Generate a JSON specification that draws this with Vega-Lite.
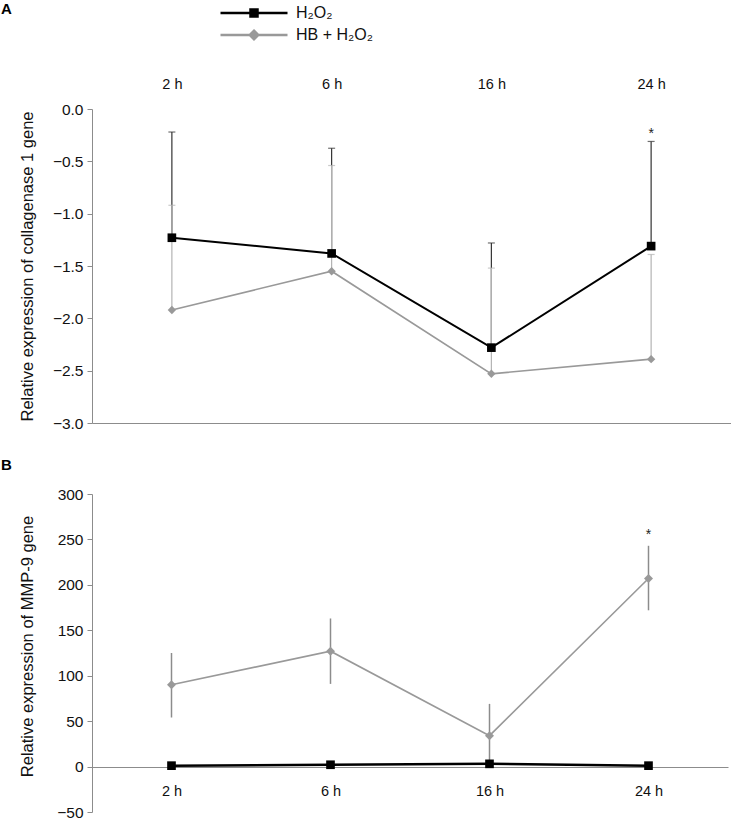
{
  "$schema": "https://vega.github.io/schema/vega-lite/v6.json",
  "padding": {"left": 1, "top": 2, "right": 0, "bottom": 0},
  "background": "white",
  "config": {
    "font": "Liberation Sans",
    "view": {"stroke": null},
    "axis": {"labelFont": "Liberation Sans", "titleFont": "Liberation Sans", "labelFontSize": 14, "titleFontSize": 16.5, "titleFontWeight": "normal", "labelColor": "#111", "titleColor": "#111", "domainColor": "#8c8c8c", "tickColor": "#8c8c8c", "grid": false}
  },
  "datasets": {
    "expr": [
      {"panel": "A", "time": "2 h", "group": "H₂O₂", "mean": -1.23, "upper": -0.22, "lower": -1.23},
      {"panel": "A", "time": "6 h", "group": "H₂O₂", "mean": -1.38, "upper": -0.375, "lower": -1.38},
      {"panel": "A", "time": "16 h", "group": "H₂O₂", "mean": -2.28, "upper": -1.28, "lower": -2.28},
      {"panel": "A", "time": "24 h", "group": "H₂O₂", "mean": -1.31, "upper": -0.31, "lower": -1.31},
      {"panel": "A", "time": "2 h", "group": "HB + H₂O₂", "mean": -1.92, "upper": -0.92, "lower": -1.92},
      {"panel": "A", "time": "6 h", "group": "HB + H₂O₂", "mean": -1.55, "upper": -0.54, "lower": -1.55},
      {"panel": "A", "time": "16 h", "group": "HB + H₂O₂", "mean": -2.53, "upper": -1.52, "lower": -2.53},
      {"panel": "A", "time": "24 h", "group": "HB + H₂O₂", "mean": -2.39, "upper": -1.39, "lower": -2.39},
      {"panel": "B", "time": "2 h", "group": "H₂O₂", "mean": 1, "upper": 1, "lower": 1},
      {"panel": "B", "time": "6 h", "group": "H₂O₂", "mean": 2, "upper": 2, "lower": 2},
      {"panel": "B", "time": "16 h", "group": "H₂O₂", "mean": 3, "upper": 3, "lower": 3},
      {"panel": "B", "time": "24 h", "group": "H₂O₂", "mean": 1, "upper": 1, "lower": 1},
      {"panel": "B", "time": "2 h", "group": "HB + H₂O₂", "mean": 90, "upper": 125, "lower": 54},
      {"panel": "B", "time": "6 h", "group": "HB + H₂O₂", "mean": 127, "upper": 163, "lower": 91},
      {"panel": "B", "time": "16 h", "group": "HB + H₂O₂", "mean": 34, "upper": 69, "lower": -1},
      {"panel": "B", "time": "24 h", "group": "HB + H₂O₂", "mean": 207, "upper": 243, "lower": 172}
    ],
    "stars": [
      {"panel": "A", "time": "24 h", "y": -0.2, "label": "*"},
      {"panel": "B", "time": "24 h", "y": 259, "label": "*"}
    ]
  },
  "spacing": 26,
  "resolve": {"legend": {"shape": "independent", "fill": "independent", "stroke": "independent"}},
  "vconcat": [
    {
      "width": 639,
      "height": 314,
      "title": {"text": "A", "anchor": "start", "frame": "group", "dx": -91, "dy": 16, "fontSize": 15, "fontWeight": "bold", "font": "Liberation Sans", "color": "#000"},
      "data": {"name": "expr"},
      "transform": [{"filter": "datum.panel == 'A'"}],
      "resolve": {"axis": {"x": "independent"}},
      "layer": [
        {
          "mark": {"type": "rule", "strokeWidth": 1.2},
          "encoding": {
            "x": {"field": "time", "type": "ordinal", "sort": ["2 h", "6 h", "16 h", "24 h"], "scale": {"type": "point", "padding": 0.5}, "title": null,
                  "axis": {"orient": "top", "domain": false, "ticks": false, "labelPadding": 18, "labelAngle": 0, "title": null, "labelFontSize": 14.5}},
            "y": {"field": "mean", "type": "quantitative", "scale": {"domain": [-3, 0], "nice": false, "zero": false},
                  "title": "Relative expression of collagenase 1 gene",
                  "axis": {"values": [-3, -2.5, -2, -1.5, -1, -0.5, 0], "format": ".1f", "tickSize": 5, "labelPadding": 4, "titleX": -57, "labelFontSize": 15.5}},
            "y2": {"field": "upper"},
            "color": {"condition": {"test": "datum.group == 'H₂O₂'", "value": "#333333"}, "value": "#b3b3b3"}
          }
        },
        {
          "mark": {"type": "tick", "thickness": 1.2, "size": 7},
          "encoding": {
            "x": {"field": "time", "type": "ordinal", "sort": ["2 h", "6 h", "16 h", "24 h"], "title": null,
                  "axis": {"orient": "bottom", "labels": false, "ticks": false, "domain": true, "title": null}},
            "y": {"field": "upper", "type": "quantitative"},
            "color": {"condition": {"test": "datum.group == 'H₂O₂'", "value": "#333333"}, "value": "#b3b3b3"}
          }
        },
        {
          "mark": {"type": "line"},
          "encoding": {
            "x": {"field": "time", "type": "ordinal", "sort": ["2 h", "6 h", "16 h", "24 h"], "axis": null},
            "y": {"field": "mean", "type": "quantitative"},
            "detail": {"field": "group"},
            "color": {"condition": {"test": "datum.group == 'H₂O₂'", "value": "#000000"}, "value": "#999999"},
            "strokeWidth": {"condition": {"test": "datum.group == 'H₂O₂'", "value": 2}, "value": 1.6}
          }
        },
        {
          "mark": {"type": "point", "filled": true, "opacity": 1},
          "encoding": {
            "x": {"field": "time", "type": "ordinal", "sort": ["2 h", "6 h", "16 h", "24 h"], "axis": null},
            "y": {"field": "mean", "type": "quantitative"},
            "shape": {"condition": {"test": "datum.group == 'H₂O₂'", "value": "square"}, "value": "diamond"},
            "color": {"condition": {"test": "datum.group == 'H₂O₂'", "value": "#000000"}, "value": "#999999"},
            "size": {"condition": {"test": "datum.group == 'H₂O₂'", "value": 75}, "value": 70}
          }
        },
        {
          "data": {"name": "stars"},
          "transform": [{"filter": "datum.panel == 'A'"}],
          "mark": {"type": "text", "fontSize": 14, "baseline": "middle", "dy": 4, "color": "#222"},
          "encoding": {
            "x": {"field": "time", "type": "ordinal", "sort": ["2 h", "6 h", "16 h", "24 h"], "axis": null},
            "y": {"field": "y", "type": "quantitative"},
            "text": {"field": "label"}
          }
        },
        {
          "transform": [{"filter": "false"}],
          "mark": {"type": "point", "filled": true, "strokeWidth": 2.5, "opacity": 1},
          "encoding": {
            "shape": {"field": "group", "type": "nominal",
                      "scale": {"domain": ["H₂O₂", "HB + H₂O₂"], "range": ["M-6.7,0H6.7M-0.7,-0.7H0.7V0.7H-0.7Z", "M-6.7,0H6.7M0,-0.85L0.85,0L0,0.85L-0.85,0Z"]},
                      "legend": {"orient": "none", "legendX": 154, "legendY": -104, "title": null, "padding": 0, "symbolSize": 100, "labelOffset": 34, "labelFontSize": 16, "labelFont": "Liberation Sans", "labelColor": "#111", "rowPadding": 3, "symbolStrokeWidth": 2.5, "symbolOpacity": 1}},
            "fill": {"field": "group", "type": "nominal", "scale": {"domain": ["H₂O₂", "HB + H₂O₂"], "range": ["#000000", "#999999"]}},
            "stroke": {"field": "group", "type": "nominal", "scale": {"domain": ["H₂O₂", "HB + H₂O₂"], "range": ["#000000", "#999999"]}}
          }
        }
      ]
    },
    {
      "width": 636,
      "height": 318,
      "title": {"text": "B", "anchor": "start", "frame": "group", "dx": -91, "offset": 14, "fontSize": 15, "fontWeight": "bold", "font": "Liberation Sans", "color": "#000"},
      "data": {"name": "expr"},
      "transform": [{"filter": "datum.panel == 'B'"}],
      "layer": [
        {
          "mark": {"type": "rule", "strokeWidth": 1.5, "color": "#8c8c8c"},
          "encoding": {
            "x": {"field": "time", "type": "ordinal", "sort": ["2 h", "6 h", "16 h", "24 h"], "scale": {"type": "point", "padding": 0.5}, "title": null,
                  "axis": {"orient": "bottom", "offset": -45, "ticks": false, "labelPadding": 17, "labelAngle": 0, "title": null, "labelFontSize": 14.5}},
            "y": {"field": "lower", "type": "quantitative", "scale": {"domain": [-50, 300], "nice": false},
                  "title": "Relative expression of MMP-9 gene",
                  "axis": {"values": [-50, 0, 50, 100, 150, 200, 250, 300], "tickSize": 5, "labelPadding": 4, "titleX": -57, "titleY": 152, "labelFontSize": 15.5}},
            "y2": {"field": "upper"}
          }
        },
        {
          "mark": {"type": "line"},
          "encoding": {
            "x": {"field": "time", "type": "ordinal", "sort": ["2 h", "6 h", "16 h", "24 h"]},
            "y": {"field": "mean", "type": "quantitative"},
            "detail": {"field": "group"},
            "color": {"condition": {"test": "datum.group == 'H₂O₂'", "value": "#000000"}, "value": "#999999"},
            "strokeWidth": {"condition": {"test": "datum.group == 'H₂O₂'", "value": 2.5}, "value": 1.6}
          }
        },
        {
          "mark": {"type": "point", "filled": true, "opacity": 1},
          "encoding": {
            "x": {"field": "time", "type": "ordinal", "sort": ["2 h", "6 h", "16 h", "24 h"]},
            "y": {"field": "mean", "type": "quantitative"},
            "shape": {"condition": {"test": "datum.group == 'H₂O₂'", "value": "square"}, "value": "diamond"},
            "color": {"condition": {"test": "datum.group == 'H₂O₂'", "value": "#000000"}, "value": "#999999"},
            "size": {"condition": {"test": "datum.group == 'H₂O₂'", "value": 75}, "value": 80}
          }
        },
        {
          "data": {"name": "stars"},
          "transform": [{"filter": "datum.panel == 'B'"}],
          "mark": {"type": "text", "fontSize": 14, "baseline": "middle", "dy": 4, "color": "#222"},
          "encoding": {
            "x": {"field": "time", "type": "ordinal", "sort": ["2 h", "6 h", "16 h", "24 h"]},
            "y": {"field": "y", "type": "quantitative"},
            "text": {"field": "label"}
          }
        }
      ]
    }
  ]
}
